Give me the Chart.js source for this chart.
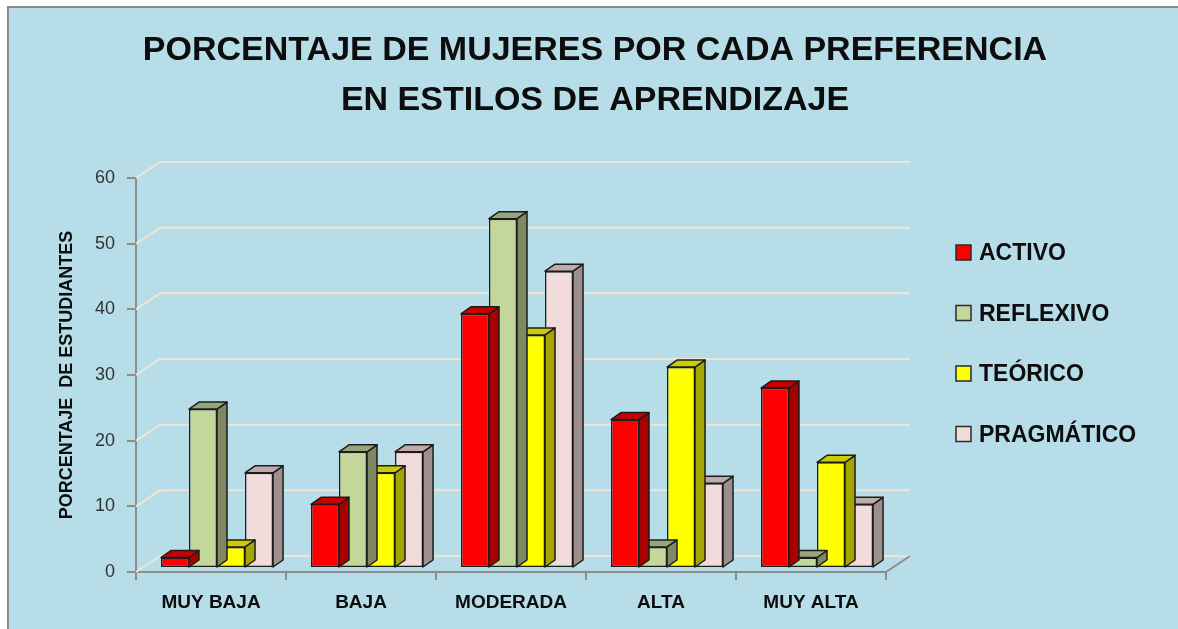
<!DOCTYPE html>
<html>
<head>
<meta charset="utf-8">
<script src="https://cdn.jsdelivr.net/npm/chart.js@4.4.1/dist/chart.umd.min.js"></script>
<style>
  html, body { margin: 0; padding: 0; background: #fff; }
  #wrap { width: 1178px; height: 629px; position: relative; }
</style>
</head>
<body>
<div id="wrap"><canvas id="chart"></canvas></div>
<script>
// data (percent of women, n = 62)
const categories = ["MUY BAJA", "BAJA", "MODERADA", "ALTA", "MUY ALTA"];
const activo = [1.6, 9.7, 38.7, 22.6, 27.4];
const reflexivo = [24.2, 17.7, 53.2, 3.2, 1.6];
const teorico = [3.2, 14.5, 35.5, 30.6, 16.1];
const pragmatico = [14.5, 17.7, 45.2, 12.9, 9.7];
const seriesNames = ["ACTIVO", "REFLEXIVO", "TEÓRICO", "PRAGMÁTICO"];
const yTicks = [0, 10, 20, 30, 40, 50, 60];
const titleLines = ["PORCENTAJE DE MUJERES POR CADA PREFERENCIA", "EN ESTILOS DE APRENDIZAJE"];

// colours: front, side, top
const faceColors = [
  ["#ff0000", "#a60000", "#c80000"],
  ["#c4d79b", "#7e8862", "#98a57a"],
  ["#ffff00", "#a6a600", "#cccc00"],
  ["#f2dcdb", "#9e8e8e", "#c0aaaa"],
];

const FONT = "'Liberation Sans', Arial, sans-serif";
const WALL_DX = 24, WALL_DY = 16;   // depth of the back wall
const BAR_DX = 6, BAR_DY = 4;       // where the bars sit in depth
const SIDE_DX = 10, SIDE_DY = 7;    // bar thickness

function poly(ctx, pts, fill) {
  ctx.beginPath();
  ctx.moveTo(pts[0][0], pts[0][1]);
  for (let i = 1; i < pts.length; i++) ctx.lineTo(pts[i][0], pts[i][1]);
  ctx.closePath();
  ctx.fillStyle = fill;
  ctx.fill();
  ctx.stroke();
}

const fake3d = {
  id: "fake3d",
  beforeDraw(chart) {
    const ctx = chart.ctx;
    ctx.save();
    ctx.fillStyle = "#ffffff";
    ctx.fillRect(0, 0, chart.width, chart.height);
    ctx.fillStyle = "#b7dde8";
    ctx.fillRect(8, 7, chart.width - 8, chart.height - 7);
    ctx.strokeStyle = "#8a8a8a";
    ctx.lineWidth = 2;
    ctx.beginPath();
    ctx.moveTo(8, chart.height);
    ctx.lineTo(8, 7);
    ctx.lineTo(chart.width, 7);
    ctx.stroke();
    ctx.restore();
  },
  beforeDatasetsDraw(chart) {
    const ctx = chart.ctx;
    const x = chart.scales.x, y = chart.scales.y;
    const l = x.left, r = x.right;
    ctx.save();
    ctx.strokeStyle = "#eee6d4";
    ctx.lineWidth = 2;
    yTicks.forEach((v) => {
      const py = y.getPixelForValue(v);
      ctx.beginPath();
      ctx.moveTo(l, py);
      ctx.lineTo(l + WALL_DX, py - WALL_DY);
      ctx.lineTo(r + WALL_DX, py - WALL_DY);
      ctx.stroke();
    });
    // right edge of the floor
    const p0 = y.getPixelForValue(0);
    ctx.strokeStyle = "#8c8c8c";
    ctx.beginPath();
    ctx.moveTo(r, p0);
    ctx.lineTo(r + WALL_DX, p0 - WALL_DY);
    ctx.stroke();
    ctx.restore();

    ctx.save();
    ctx.translate(BAR_DX, -BAR_DY);
  },
  afterDatasetDraw(chart, args) {
    const ctx = chart.ctx;
    const cols = faceColors[args.index];
    ctx.save();
    ctx.strokeStyle = "#1c1c1c";
    ctx.lineWidth = 1.5;
    ctx.lineJoin = "round";
    args.meta.data.forEach((bar) => {
      const p = bar.getProps(["x", "y", "base", "width"], true);
      const left = p.x - p.width / 2, right = p.x + p.width / 2;
      poly(ctx, [[right, p.y], [right + SIDE_DX, p.y - SIDE_DY], [right + SIDE_DX, p.base - SIDE_DY], [right, p.base]], cols[1]);
      poly(ctx, [[left, p.y], [left + SIDE_DX, p.y - SIDE_DY], [right + SIDE_DX, p.y - SIDE_DY], [right, p.y]], cols[2]);
    });
    ctx.restore();
  },
  afterDatasetsDraw(chart) {
    chart.ctx.restore();
  },
  afterDraw(chart) {
    const ctx = chart.ctx;
    ctx.save();
    // title
    ctx.fillStyle = "#0d0d0d";
    ctx.font = "bold 34px " + FONT;
    ctx.textAlign = "center";
    ctx.textBaseline = "middle";
    ctx.fillText(titleLines[0], 595, 51);
    ctx.fillText(titleLines[1], 595, 101);
    // legend
    ctx.font = "bold 23px " + FONT;
    ctx.textAlign = "left";
    chart.data.datasets.forEach((ds, i) => {
      const cy = 253 + i * 60.5;
      ctx.fillStyle = ds.backgroundColor;
      ctx.fillRect(956, cy - 8, 15, 15);
      ctx.strokeStyle = "#2a2a2a";
      ctx.lineWidth = 1.5;
      ctx.strokeRect(956, cy - 8, 15, 15);
      ctx.fillStyle = "#0d0d0d";
      ctx.fillText(ds.label, 979, cy + 1);
    });
    ctx.restore();
  },
};

const seriesValues = [activo, reflexivo, teorico, pragmatico];

new Chart(document.getElementById("chart"), {
  type: "bar",
  data: {
    labels: categories,
    datasets: seriesValues.map((vals, i) => ({
      label: seriesNames[i],
      data: vals,
      backgroundColor: faceColors[i][0],
      borderColor: "#1c1c1c",
      borderWidth: 1.5,
      borderSkipped: false,
      clip: false,
    })),
  },
  options: {
    responsive: true,
    maintainAspectRatio: false,
    animation: false,
    categoryPercentage: 0.747,
    barPercentage: 1,
    layout: { padding: { left: 8, right: 292, top: 178, bottom: 0 } },
    plugins: {
      legend: { display: false },
      title: { display: false },
      tooltip: { enabled: false },
    },
    scales: {
      x: {
        grid: { drawOnChartArea: false, tickLength: 8, color: "#8c8c8c", lineWidth: 2, offset: true },
        border: { color: "#8c8c8c", width: 2 },
        ticks: { color: "#0d0d0d", font: { family: FONT, size: 19, weight: "bold" }, padding: 11 },
        afterFit(scale) { scale.height = 57; },
      },
      y: {
        min: 0,
        max: 60,
        grid: { drawOnChartArea: false, tickLength: 9, color: "#8c8c8c", lineWidth: 2 },
        border: { color: "#8c8c8c", width: 2 },
        ticks: { stepSize: 10, color: "#333333", font: { family: FONT, size: 18 }, padding: 12 },
        title: {
          display: true,
          text: "PORCENTAJE  DE ESTUDIANTES",
          color: "#0d0d0d",
          font: { family: FONT, size: 18, weight: "bold" },
          padding: { top: 48, bottom: 0 },
        },
        afterFit(scale) { scale.width = 128; },
      },
    },
  },
  plugins: [fake3d],
});
</script>
</body>
</html>
